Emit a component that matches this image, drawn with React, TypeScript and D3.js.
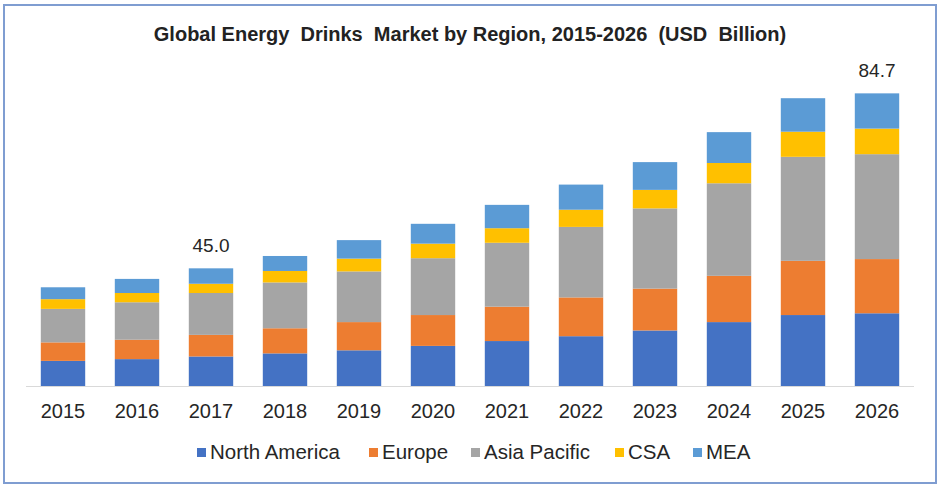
import React, { useEffect, useRef } from 'react';
import * as d3 from 'd3';

const years = ['2015', '2016', '2017', '2018', '2019', '2020', '2021', '2022', '2023', '2024', '2025', '2026'];
const regions = ['North America', 'Europe', 'Asia Pacific', 'CSA', 'MEA'];
const colors = ['#4472C4', '#ED7D31', '#A5A5A5', '#FFC000', '#5B9BD5'];

// USD Billion per region, stacked bottom to top
const northAmerica = [24.0, 24.4, 25.0, 25.7, 26.4, 27.4, 28.5, 29.6, 30.9, 32.8, 34.4, 34.8];
const europe = [4.2, 4.4, 4.9, 5.7, 6.4, 7.0, 7.8, 8.8, 9.5, 10.5, 12.3, 12.3];
const asiaPacific = [7.6, 8.5, 9.5, 10.4, 11.5, 12.9, 14.5, 16.0, 18.2, 21.0, 23.6, 23.8];
const csa = [2.2, 2.1, 2.1, 2.6, 2.9, 3.3, 3.3, 3.9, 4.2, 4.6, 5.7, 5.8];
const mea = [2.7, 3.2, 3.5, 3.4, 4.2, 4.5, 5.3, 5.7, 6.3, 7.0, 7.6, 8.0];

// total labels shown only on these years
const labelledYears = ['2017', '2026'];

// value axis (hidden) starts above zero, as in the source chart
const yMin = 18.3;
const yMax = 90;

const W = 940;
const H = 488;

const App: React.FC = () => {
  const svgRef = useRef<SVGSVGElement>(null);

  useEffect(() => {
    if (!svgRef.current) return;
    const svg = d3.select(svgRef.current);
    svg.selectAll('*').remove();

    const font = '"Liberation Sans", Arial, sans-serif';

    // outer frame
    svg.append('rect')
      .attr('x', 4).attr('y', 5)
      .attr('width', 932).attr('height', 478)
      .attr('fill', '#fff')
      .attr('stroke', '#7F9DD1')
      .attr('stroke-width', 2);

    svg.append('text')
      .attr('x', 470).attr('y', 41)
      .attr('text-anchor', 'middle')
      .attr('font-family', font)
      .attr('font-weight', 'bold')
      .attr('font-size', 20)
      .attr('fill', '#222')
      .style('white-space', 'pre')
      .text('Global Energy  Drinks  Market by Region, 2015-2026  (USD  Billion)');

    const x = d3.scaleBand<string>()
      .domain(years)
      .range([26, 914])
      .paddingInner(0.4)
      .paddingOuter(0.2);

    const y = d3.scaleLinear().domain([yMin, yMax]).range([386, 70]);

    const table = years.map((yr, i) => ({
      year: yr,
      'North America': northAmerica[i],
      Europe: europe[i],
      'Asia Pacific': asiaPacific[i],
      CSA: csa[i],
      MEA: mea[i],
    }));

    const stacked = d3.stack<any>().keys(regions)(table);

    const layers = svg.append('g')
      .selectAll('g')
      .data(stacked)
      .enter()
      .append('g')
      .attr('fill', (_d, i) => colors[i]);

    layers.selectAll('rect')
      .data(d => d)
      .enter()
      .append('rect')
      .attr('x', d => x(d.data.year)!)
      .attr('width', x.bandwidth())
      .attr('y', d => y(d[1]))
      .attr('height', d => y(Math.max(d[0], yMin)) - y(d[1]));

    // category axis line
    svg.append('line')
      .attr('x1', 26).attr('x2', 914)
      .attr('y1', 386.5).attr('y2', 386.5)
      .attr('stroke', '#D9D9D9')
      .attr('stroke-width', 1);

    svg.append('g')
      .selectAll('text')
      .data(years)
      .enter()
      .append('text')
      .attr('x', d => x(d)! + x.bandwidth() / 2)
      .attr('y', 418)
      .attr('text-anchor', 'middle')
      .attr('font-family', font)
      .attr('font-size', 20)
      .attr('fill', '#262626')
      .text(d => d);

    // total labels
    const totals = table.map(r => ({ year: r.year, total: d3.sum(regions, k => (r as any)[k]) }));
    svg.append('g')
      .selectAll('text')
      .data(totals.filter(t => labelledYears.includes(t.year)))
      .enter()
      .append('text')
      .attr('x', d => x(d.year)! + x.bandwidth() / 2)
      .attr('y', d => y(d.total) - 16)
      .attr('text-anchor', 'middle')
      .attr('font-family', font)
      .attr('font-size', 19)
      .attr('fill', '#262626')
      .text(d => d3.format('.1f')(d.total));

    // legend
    const legendX = [197, 369, 471, 615, 693];
    const legend = svg.append('g')
      .selectAll('g')
      .data(regions)
      .enter()
      .append('g')
      .attr('transform', (_d, i) => `translate(${legendX[i]},0)`);

    legend.append('rect')
      .attr('x', 0).attr('y', 448)
      .attr('width', 9).attr('height', 9)
      .attr('fill', (_d, i) => colors[i]);

    legend.append('text')
      .attr('x', 13).attr('y', 459)
      .attr('font-family', font)
      .attr('font-size', 20.5)
      .attr('fill', '#262626')
      .text(d => d);
  }, []);

  return (
    <svg
      ref={svgRef}
      width={W}
      height={H}
      style={{ position: 'absolute', left: 0, top: 0, display: 'block' }}
    />
  );
};

export default App;
